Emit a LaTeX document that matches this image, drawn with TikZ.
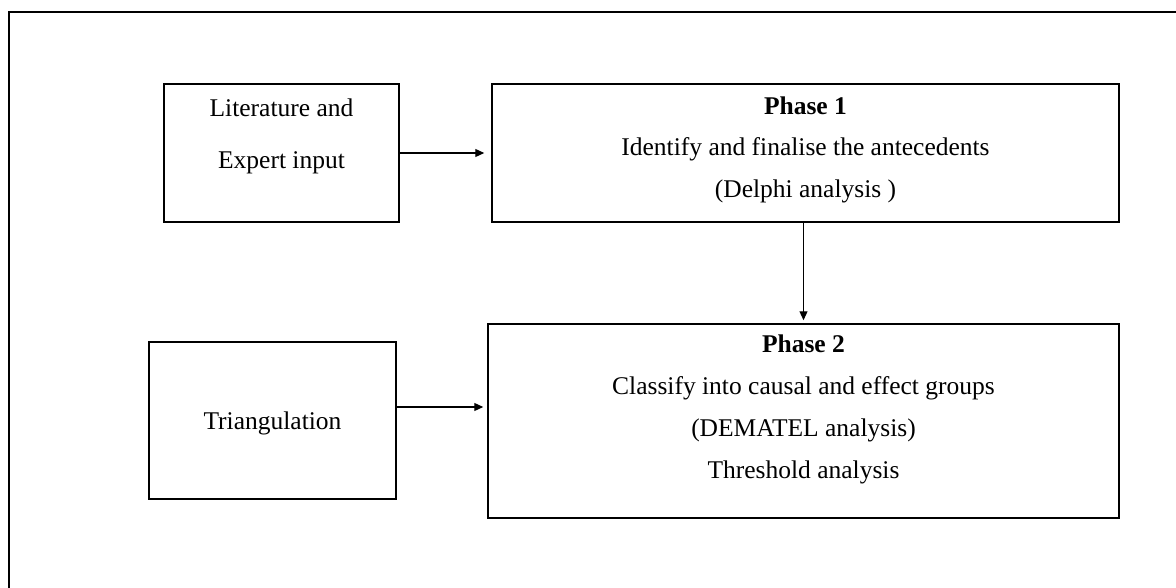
\documentclass[tikz,border=0pt]{standalone}
\usepackage{fontspec}
\setmainfont{Liberation Serif}
\usetikzlibrary{arrows.meta,calc}
\begin{document}
\begin{tikzpicture}[x=1pt,y=-1pt,
  box/.style={draw,line width=1.5pt,inner sep=0pt},
  txt/.style={inner sep=0pt,align=center},
  conn/.style={line width=1.2pt,-{Triangle[length=9pt,width=8pt]}},
  frame/.style={line width=2pt}]
\useasboundingbox (0,0) rectangle (1176,588);
\draw[frame] (9,588) -- (9,12) -- (1176,12);
% boxes
\node[box,minimum width=235pt,minimum height=138pt] (A) at (281.5,153) {};
\node[box,minimum width=627pt,minimum height=138pt] (B) at (805.5,153) {};
\node[box,minimum width=631pt,minimum height=194pt] (C) at (803.5,421) {};
\node[box,minimum width=247pt,minimum height=157pt] (D) at (272.5,420.5) {};
% texts (base anchor = last line)
\node[txt,anchor=base,font={\fontsize{25.5}{52}\selectfont}] (At) at (281.5,169)
  {Literature and\\Expert input};
\node[txt,anchor=base,font={\fontsize{25.5}{41.7}\selectfont}] (Bt) at (805.5,197.5)
  {\textbf{Phase 1}\\Identify and finalise the antecedents\\(Delphi analysis )};
\node[txt,anchor=base,font={\fontsize{25.5}{41.7}\selectfont}] (Ct) at (803.5,478)
  {\textbf{Phase 2}\\Classify into causal and effect groups\\(DEMATEL analysis)\\Threshold analysis};
\node[txt,anchor=base,font={\fontsize{25.5}{41.7}\selectfont}] (Dt) at (272.5,429)
  {Triangulation};
% connectors
\draw[conn,shorten >=7pt] (A.east) -- (B.west);
\draw[conn,shorten >=3pt] (B.south -| C.north) -- (C.north);
\draw[conn,shorten >=4pt] ([yshift=13.5pt]D.east) -- ([yshift=13.5pt]D.east -| C.west);
\end{tikzpicture}
\end{document}
